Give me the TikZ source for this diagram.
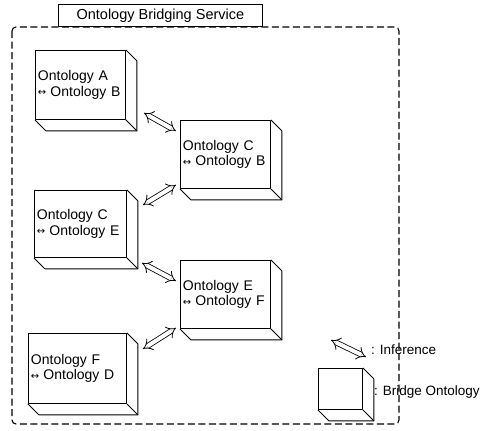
\documentclass[tikz,border=0pt]{standalone}
\usepackage{fontspec}
\setmainfont{Liberation Sans}
\newfontfamily\symfont{DejaVu Sans}
\usetikzlibrary{arrows.meta,calc}

% depth of the extruded side and bottom faces of a bridge block
\newcommand\dep{11}
% draw the right and bottom faces behind a block's front face
\newcommand\boxdepth[1]{%
  \draw[edge] (#1.north east) -- ++(\dep,\dep)
     -- ([shift={(\dep,\dep)}]#1.south east)
     -- ([shift={(\dep,\dep)}]#1.south west) -- (#1.south west);
  \draw[edge] (#1.south east) -- ++(\dep,\dep);}
% small two-way arrow and a two-line block label
\newcommand\lrarrow{\makebox[12.5pt][l]{\raisebox{0.5pt}{\symfont\fontsize{10}{10}\selectfont ↔}}}
\newcommand\pair[2]{\mbox{Ontology #1}\\\mbox{\lrarrow Ontology #2}}

\tikzset{
  edge/.style={line width=0.9pt, line join=round},
  bridge/.style={draw, edge, fill=white, rectangle, anchor=north west,
    inner xsep=2.5pt, inner ysep=0pt, align=left,
    font=\fontsize{14}{15.5}\selectfont},
  infer/.style={double, double distance=4pt, line width=0.8pt,
    {Implies[length=5.5pt]}-{Implies[length=5.5pt]}},
  legend/.style={anchor=west, inner sep=0pt, font=\fontsize{13.5}{15}\selectfont},
  frame/.style={draw, line width=1.1pt, dash pattern=on 7pt off 3.5pt, rounded corners=4pt},
}

\begin{document}
\begin{tikzpicture}[x=1pt, y=-1pt]
\useasboundingbox (0,0) rectangle (488,431);

% service boundary and its title tab
\draw[frame] (12,27) rectangle (399,424);
\node[draw, line width=0.8pt, fill=white, anchor=south west, minimum width=204pt,
      minimum height=22pt, inner sep=0pt, font=\fontsize{14.5}{16}\selectfont]
      (title) at (58,27) {Ontology Bridging Service};

% bridge ontologies
\node[bridge, text width=85pt, minimum height=69pt] (A)  at (35,50)   {\pair{A}{B}};
\node[bridge, text width=85pt, minimum height=68pt] (CB) at (180,120) {\pair{C}{B}};
\node[bridge, text width=87pt, minimum height=67pt] (CE) at (34,190)  {\pair{C}{E}};
\node[bridge, text width=85pt, minimum height=68pt] (EF) at (180,260) {\pair{E}{F}};
\node[bridge, text width=93pt, minimum height=70pt] (FD) at (28,333)  {\pair{F}{D}};
\foreach \n in {A,CB,CE,EF,FD} {\boxdepth{\n}}

% inference links
\draw[infer] ([shift={(18,-7)}]A.south east) -- ([shift={(-4,11)}]CB.north west);
\draw[infer] ([shift={(16,15)}]CE.north east) -- ([shift={(-4,-4)}]CB.south west);
\draw[infer] ([shift={(15,5)}]CE.south east) -- ([shift={(-4,21)}]EF.north west);
\draw[infer] ([shift={(16,16)}]FD.north east) -- ([shift={(-4,-1)}]EF.south west);

% legend
\coordinate (li1) at (331,340);
\coordinate (li2) at (366,357);
\draw[infer] (li1) -- (li2);
\node[legend] (linf) at (371,350) {: Inference};

\node[bridge, minimum width=44pt, minimum height=41pt] (lbox) at (318,368) {};
\boxdepth{lbox}
\node[legend] (lbr) at (374,392) {: Bridge Ontology};
\end{tikzpicture}
\end{document}
